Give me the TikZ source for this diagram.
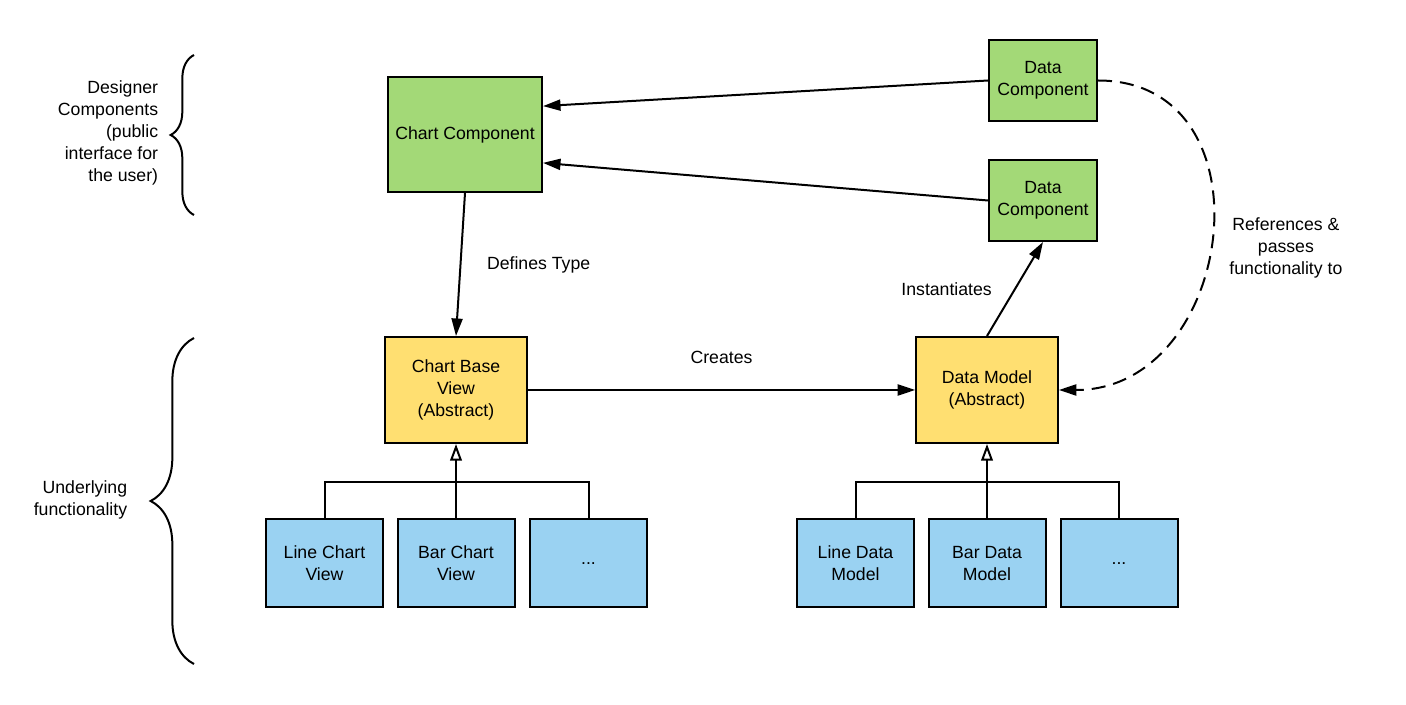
\documentclass[tikz,border=0pt]{standalone}
\usepackage{fontspec}
\setmainfont{Liberation Sans}
\usetikzlibrary{arrows.meta,positioning,calc,decorations.pathreplacing}
\definecolor{compgreen}{HTML}{A3D977}
\definecolor{basegold}{HTML}{FFDF71}
\definecolor{implblue}{HTML}{9AD2F2}

\begin{document}
\begin{tikzpicture}[x=0.6pt,y=-0.6pt]
    \tikzstyle{every node}=[font={\fontsize{10.6}{13.2}\selectfont}]
    \tikzstyle{box}=[draw,line width=1.2pt,align=center,inner sep=2pt]
    \tikzstyle{designer}=[box,fill=compgreen]
    \tikzstyle{abstract}=[box,fill=basegold,minimum width=85pt,minimum height=63.6pt]
    \tikzstyle{impl}=[box,fill=implblue,minimum width=70.2pt,minimum height=52.8pt]
    \tikzstyle{arr}=[line width=1.2pt,-{Triangle[length=10.5pt,width=6.6pt]}]
    \tikzstyle{inherit}=[line width=1.2pt,-{Triangle[open,length=10pt,width=7pt,fill=white]}]
    \tikzstyle{grouping}=[line width=1.2pt,decorate]
    \useasboundingbox (0,0) rectangle (1406,705);

    %%% Designer components
    \node[designer,minimum width=92.4pt,minimum height=69pt] (cc) at (465,134.5) {Chart Component};
    \node[designer,minimum width=64.8pt,minimum height=48.6pt] (dc1) at (1043,80.5) {Data\\Component};
    \node[designer,minimum width=64.8pt,minimum height=48.6pt] (dc2) at (1043,200.5) {Data\\Component};

    %%% Underlying functionality
    \node[abstract] (cbv) at (456,390) {Chart Base\\View\\(Abstract)};
    \node[abstract] (dm) at (987,390) {Data Model\\(Abstract)};

    \node[impl] (lcv) at (324.5,563.5) {Line Chart\\View};
    \node[impl] (bcv) at (456,563.5) {Bar Chart\\View};
    \node[impl] (mcv) at (588.5,563.5) {...};
    \node[impl] (ldm) at (855.5,563.5) {Line Data\\Model};
    \node[impl] (bdm) at (987,563.5) {Bar Data\\Model};
    \node[impl] (mdm) at (1119,563.5) {...};

    \coordinate (vjoin) at (456,482);
    \coordinate (mjoin) at (987,482);

    %%% Side notes
    \coordinate (dtop) at (194,55);
    \coordinate (dbot) at (194,215);
    \coordinate (utop) at (194,338);
    \coordinate (ubot) at (194,664);
    \draw[grouping,decoration={brace,amplitude=14pt}] (dbot) -- (dtop);
    \draw[grouping,decoration={brace,amplitude=26pt}] (ubot) -- (utop);
    \node[align=right,anchor=east] (dnote) at (164,133) {Designer\\Components\\(public\\interface for\\the user)};
    \node[align=right,anchor=east] (unote) at (133,500) {Underlying\\functionality};

    %%% Connectors
    \draw[arr] (dc1.west) -- (cc.20);
    \draw[arr] (dc2.west) -- (cc.-20);
    \draw[arr] (cc.south) -- node[right=12pt] {Defines Type} (cbv.north);
    \draw[arr] (cbv.east) -- node[above=12pt] {Creates} (dm.west);
    \draw[arr] (dm.north) -- node[left=10pt] {Instantiates} (dc2.south);
    \draw[arr,dash pattern=on 8.4pt off 4.8pt] (dc1.east) to[out=0,in=0,looseness=1.45]
        node[right=7pt,yshift=-7.5pt,align=center] {References \&\\passes\\functionality to} (dm.east);

    \draw[line width=1.2pt] (lcv.north) |- (vjoin) -| (mcv.north);
    \draw[inherit] (bcv.north) -- (cbv.south);
    \draw[line width=1.2pt] (ldm.north) |- (mjoin) -| (mdm.north);
    \draw[inherit] (bdm.north) -- (dm.south);
\end{tikzpicture}
\end{document}
